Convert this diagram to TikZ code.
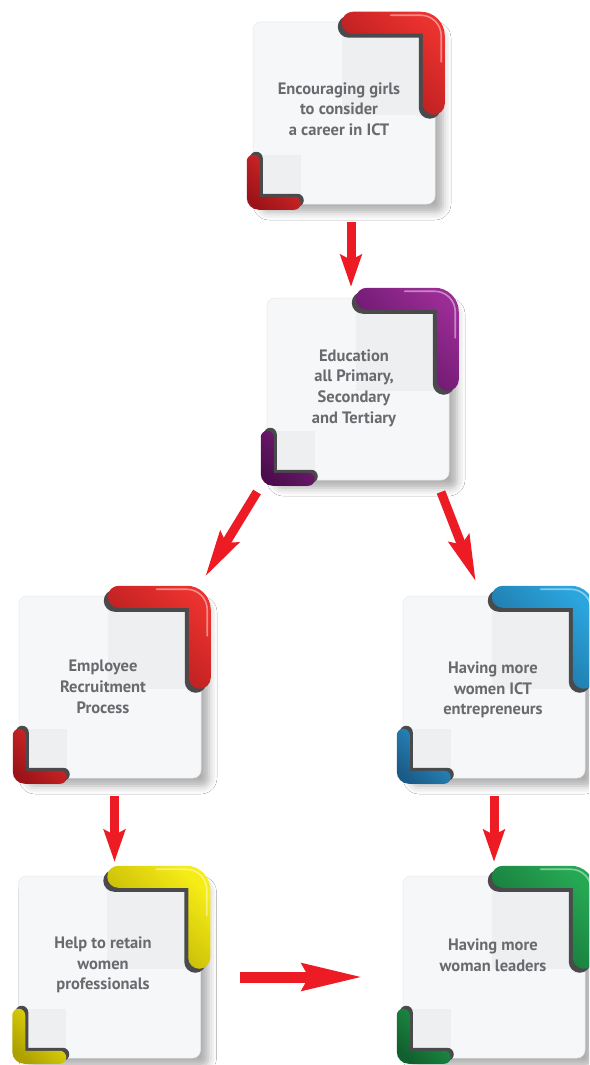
\documentclass[tikz,border=0pt]{standalone}
\usepackage{fontspec}
\newfontfamily\labelfont{PT Sans}
\usetikzlibrary{arrows.meta,shadows.blur}

% palette
\definecolor{cardfill}{HTML}{F6F7F9}
\definecolor{cardtint}{HTML}{EEEFF1}
\definecolor{cardedge}{HTML}{E6E7EA}
\definecolor{labelgray}{HTML}{696A6D}
\definecolor{arrowred}{HTML}{ED1C24}
\definecolor{pieceshade}{HTML}{4A4A4C}
% corner-piece colours: TL/TD = upper piece light/dark, LL/LD = lower piece light/dark
\definecolor{rdTL}{HTML}{EA322E}\definecolor{rdTD}{HTML}{A8171C}
\definecolor{rdLL}{HTML}{E22C2A}\definecolor{rdLD}{HTML}{9C1419}
\definecolor{puTL}{HTML}{9A2C95}\definecolor{puTD}{HTML}{5A1260}
\definecolor{puLL}{HTML}{7A1F78}\definecolor{puLD}{HTML}{4C0D4E}
\definecolor{blTL}{HTML}{2CA5DE}\definecolor{blTD}{HTML}{1A6894}
\definecolor{blLL}{HTML}{2C95CF}\definecolor{blLD}{HTML}{1A5C88}
\definecolor{yeTL}{HTML}{F6EC16}\definecolor{yeTD}{HTML}{B3A600}
\definecolor{yeLL}{HTML}{F0E50F}\definecolor{yeLD}{HTML}{ADA000}
\definecolor{grTL}{HTML}{26A853}\definecolor{grTD}{HTML}{136A34}
\definecolor{grLL}{HTML}{219A4B}\definecolor{grLD}{HTML}{11602E}

% outlines of the two corner pieces, in card-local coordinates (y grows downward)
\newcommand{\upperpiece}{(100,-10) -- (168,-10) arc[start angle=270, end angle=360, radius=24]
  -- (192,82) arc[start angle=0, end angle=180, radius=11]
  -- (170,12) -- (100,12) arc[start angle=90, end angle=270, radius=11] -- cycle}
\newcommand{\lowerpiece}{(-6,139.5) -- (-6,176) arc[start angle=180, end angle=90, radius=12]
  -- (41.5,188) arc[start angle=90, end angle=-90, radius=6.5]
  -- (7,175) -- (7,139.5) arc[start angle=0, end angle=-180, radius=6.5] -- cycle}

% tinted panels and corner pieces of one card: #1 card node, #2 colour prefix
\newcommand{\cardparts}[2]{%
  \begin{scope}[shift={(#1.north west)}]
    \begin{scope}
      \clip[rounded corners=8pt] (0,0) rectangle (182,182);
      \fill[cardtint] (89,0) rectangle (182,93);
      \fill[cardtint] (0,133) rectangle (48,182);
    \end{scope}
    \fill[pieceshade, shift={(-4,4)}] \upperpiece;
    \shade[top color=#2TL, bottom color=#2TD, shading angle=-45] \upperpiece;
    \draw[white, opacity=.45, line width=1.6pt, line cap=round]
      (138,-6.5) -- (168,-6.5) arc[start angle=270, end angle=360, radius=20.5] -- (188.5,40);
    \fill[pieceshade, shift={(3,-3)}] \lowerpiece;
    \shade[top color=#2LL, bottom color=#2LD, shading angle=-45] \lowerpiece;
  \end{scope}}

\begin{document}
\begin{tikzpicture}[x=1pt, y=-1pt,
  card/.style={minimum width=182pt, minimum height=182pt, inner sep=0pt,
    rounded corners=8pt, fill=cardfill, draw=cardedge, line width=0.5pt,
    blur shadow={shadow xshift=8pt, shadow yshift=-8pt, shadow blur radius=8pt, shadow opacity=32}},
  cardtext/.style={text=labelgray, align=center, inner sep=0pt,
    font=\labelfont\bfseries\fontsize{16.5}{20.7}\selectfont},
  flow/.style={draw=arrowred, line width=9pt, -{Stealth[length=32pt, width=21pt, inset=5pt]}},
  slantflow/.style={draw=arrowred, line width=9pt, -{Stealth[length=46pt, width=21pt, inset=6pt]}},
  longflow/.style={draw=arrowred, line width=11pt, -{Stealth[length=60pt, width=26pt, inset=6pt]}}]

\useasboundingbox (0,0) rectangle (589,1065);
\clip (0,0) rectangle (589,1065);
\fill[white] (0,0) rectangle (589,1065);

% cards
\node[card] (c1) at (344,113) {};
\cardparts{c1}{rd}
\node[card] (c2) at (358,389) {};
\cardparts{c2}{pu}
\node[card] (c3) at (110,687) {};
\cardparts{c3}{rd}
\node[card] (c4) at (494,687) {};
\cardparts{c4}{bl}
\node[card] (c5) at (109.5,967) {};
\cardparts{c5}{ye}
\node[card] (c6) at (494,967) {};
\cardparts{c6}{gr}

% card texts
\node[cardtext] (t1) at (339,109) {Encouraging girls\\to consider\\a career in ICT};
\node[cardtext] (t2) at (354,388) {Education\\all Primary,\\Secondary\\and Tertiary};
\node[cardtext] (t3) at (103,687) {Employee\\Recruitment\\Process};
\node[cardtext] (t4) at (493,690) {Having more\\women ICT\\entrepreneurs};
\node[cardtext] (t5) at (103,965) {Help to retain\\women\\professionals};
\node[cardtext] (t6) at (493,955) {Having more\\woman leaders};

% connectors
\coordinate (a1s) at (351,222);   \coordinate (a1e) at (351,287);
\coordinate (a2s) at (257,492);   \coordinate (a2e) at (205,577);
\coordinate (a3s) at (441,492);   \coordinate (a3e) at (476,582);
\coordinate (a4s) at (114.5,796); \coordinate (a4e) at (114.5,862);
\coordinate (a5s) at (494,796);   \coordinate (a5e) at (494,862);
\coordinate (a6s) at (240,977);   \coordinate (a6e) at (363,977);

\draw[flow] (a1s) -- (a1e);
\draw[slantflow] (a2s) -- (a2e);
\draw[slantflow] (a3s) -- (a3e);
\draw[flow] (a4s) -- (a4e);
\draw[flow] (a5s) -- (a5e);
\draw[longflow] (a6s) -- (a6e);
\end{tikzpicture}
\end{document}
